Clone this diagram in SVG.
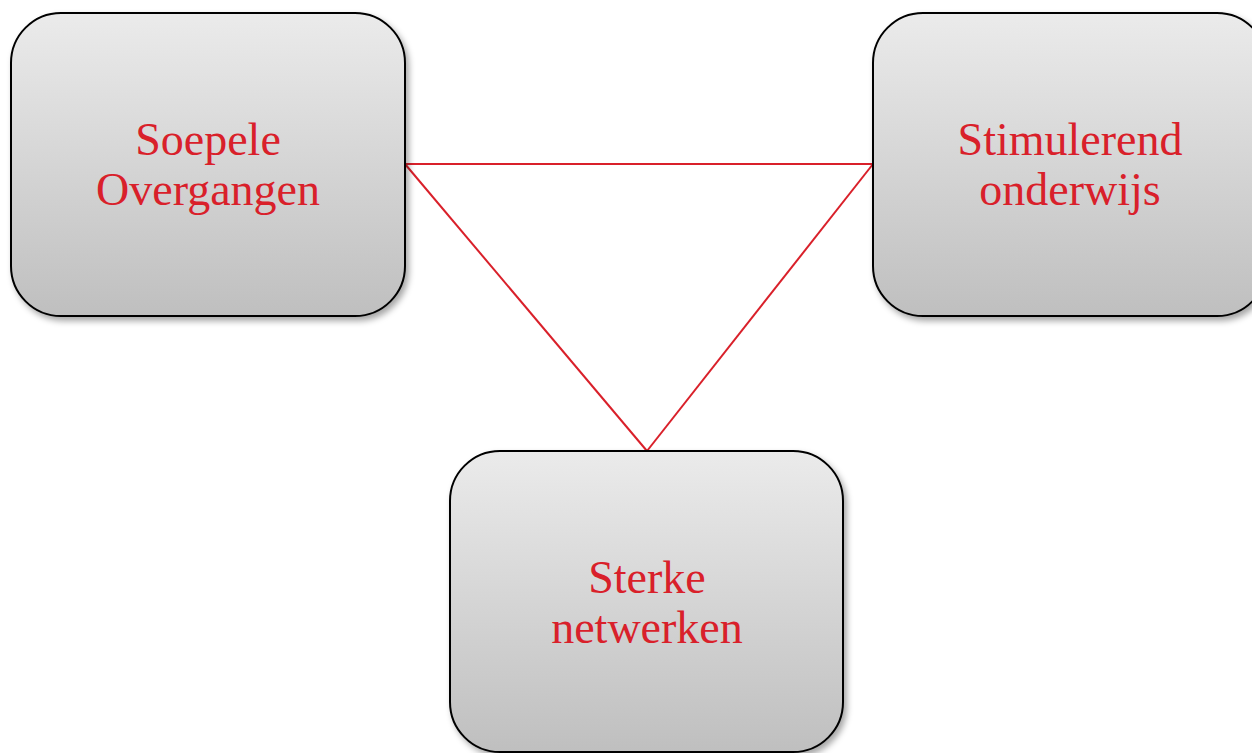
<svg xmlns="http://www.w3.org/2000/svg" width="1252" height="753" viewBox="0 0 1252 753">
<defs>
<linearGradient id="g" x1="0" y1="0" x2="0" y2="1">
<stop offset="0" stop-color="#ebebeb"/>
<stop offset="1" stop-color="#bfbfbf"/>
</linearGradient>
<filter id="sh" x="-10%" y="-10%" width="125%" height="125%">
<feDropShadow dx="3" dy="4" stdDeviation="3" flood-color="#000" flood-opacity="0.35"/>
</filter>
<style>
.box{fill:url(#g);stroke:#000;stroke-width:2;filter:url(#sh)}
.lbl{font-family:"Liberation Serif","DejaVu Serif",serif;font-size:46px;fill:#d9202a;text-anchor:middle}
.con{stroke:#d9202a;stroke-width:2;fill:none}
</style>
</defs>
<rect width="1252" height="753" fill="#fff"/>
<g id="connectors">
<line class="con" x1="405" y1="164" x2="873" y2="164"/>
<line class="con" x1="405" y1="164" x2="647" y2="451"/>
<line class="con" x1="873" y1="164" x2="647" y2="451"/>
</g>
<g id="soepele">
<rect class="box" x="11" y="13" width="394" height="303" rx="50" ry="50"/>
<text class="lbl" x="208" y="155">Soepele</text>
<text class="lbl" x="208" y="205">Overgangen</text>
</g>
<g id="stimulerend">
<rect class="box" x="873" y="13" width="394" height="303" rx="50" ry="50"/>
<text class="lbl" x="1070" y="155">Stimulerend</text>
<text class="lbl" x="1070" y="205">onderwijs</text>
</g>
<g id="sterke">
<rect class="box" x="450" y="451" width="393" height="301" rx="50" ry="50"/>
<text class="lbl" x="647" y="593">Sterke</text>
<text class="lbl" x="647" y="643">netwerken</text>
</g>
</svg>
